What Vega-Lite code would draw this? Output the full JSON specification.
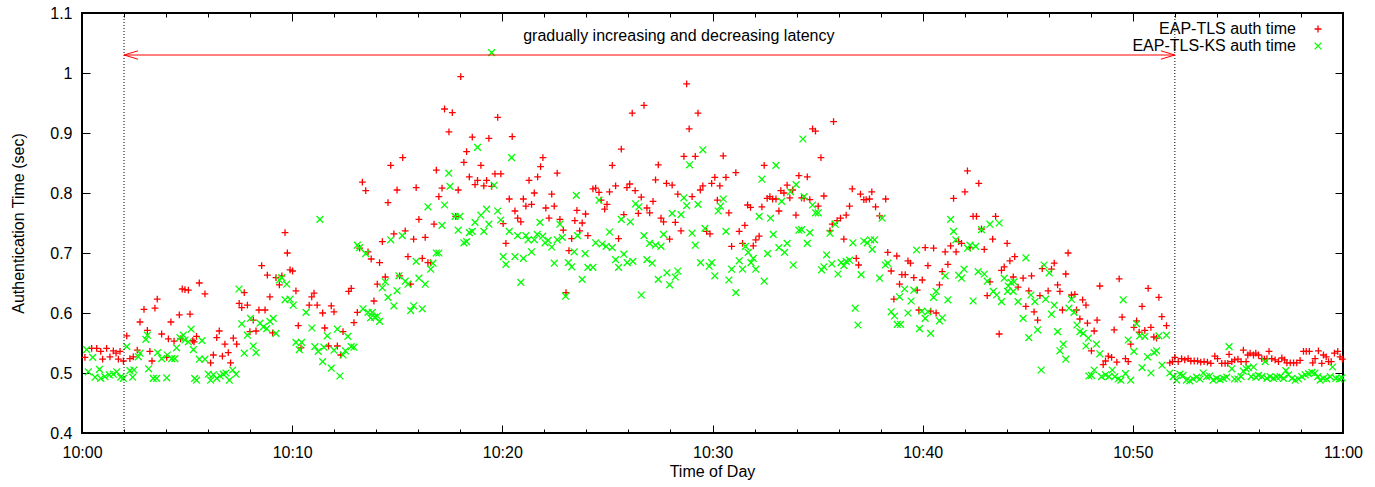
{
"$schema": "https://vega.github.io/schema/vega-lite/v6.json",
"width": 1261, "height": 420,
"autosize": {"type": "none"},
"padding": {"left": 82, "top": 13, "right": 32, "bottom": 54},
"background": "white",
"config": {
  "view": {"stroke": "black", "strokeWidth": 2},
  "font": "Liberation Sans",
  "axis": {"grid": false, "domain": false, "labelFont": "Liberation Sans", "labelFontSize": 16, "labelColor": "black", "titleFont": "Liberation Sans", "titleFontSize": 16, "titleFontWeight": "normal", "titleColor": "black", "tickColor": "black", "tickWidth": 1},
  "legend": {"orient": "none", "legendX": 1228, "legendY": 8, "title": null, "labelAlign": "right", "labelOffset": -30, "labelLimit": 0, "labelFont": "Liberation Sans", "labelFontSize": 16, "labelColor": "black", "symbolSize": 46, "symbolStrokeWidth": 1.3, "rowPadding": 1}
},
"datasets": {
"tls": [
{"t":0.14,"v":0.526},{"t":0.46,"v":0.541},{"t":0.70,"v":0.541},{"t":0.89,"v":0.536},{"t":0.98,"v":0.523},{"t":1.17,"v":0.541},{"t":1.33,"v":0.527},{"t":1.49,"v":0.537},{"t":1.62,"v":0.533},{"t":1.73,"v":0.523},{"t":1.81,"v":0.536},{"t":1.97,"v":0.520},{"t":2.13,"v":0.562},{"t":2.28,"v":0.524},{"t":2.44,"v":0.527},{"t":2.63,"v":0.538},{"t":2.76,"v":0.585},{"t":2.95,"v":0.606},{"t":3.11,"v":0.571},{"t":3.23,"v":0.536},{"t":3.33,"v":0.520},{"t":3.47,"v":0.608},{"t":3.58,"v":0.623},{"t":3.79,"v":0.565},{"t":4.03,"v":0.526},{"t":4.11,"v":0.557},{"t":4.23,"v":0.585},{"t":4.38,"v":0.553},{"t":4.63,"v":0.597},{"t":4.69,"v":0.557},{"t":4.77,"v":0.640},{"t":4.90,"v":0.639},{"t":5.06,"v":0.638},{"t":5.14,"v":0.598},{"t":5.27,"v":0.554},
{"t":5.33,"v":0.552},{"t":5.45,"v":0.561},{"t":5.58,"v":0.650},{"t":5.85,"v":0.632},{"t":6.12,"v":0.517},{"t":6.25,"v":0.530},{"t":6.41,"v":0.559},{"t":6.53,"v":0.570},{"t":6.68,"v":0.528},{"t":6.80,"v":0.548},{"t":6.96,"v":0.534},{"t":7.07,"v":0.517},{"t":7.20,"v":0.558},{"t":7.36,"v":0.548},{"t":7.48,"v":0.616},{"t":7.60,"v":0.609},{"t":7.72,"v":0.634},{"t":7.87,"v":0.613},{"t":7.99,"v":0.569},{"t":8.15,"v":0.588},{"t":8.28,"v":0.570},{"t":8.42,"v":0.605},{"t":8.55,"v":0.679},{"t":8.71,"v":0.605},{"t":8.82,"v":0.663},{"t":8.94,"v":0.627},{"t":9.07,"v":0.567},{"t":9.23,"v":0.659},{"t":9.39,"v":0.647},{"t":9.51,"v":0.662},{"t":9.66,"v":0.734},{"t":9.77,"v":0.700},{"t":9.90,"v":0.672},{"t":10.02,"v":0.670},{"t":10.18,"v":0.637},{"t":10.29,"v":0.579},{"t":10.42,"v":0.542},{"t":10.81,"v":0.613},{"t":10.93,"v":0.627},{"t":11.04,"v":0.633},{"t":11.19,"v":0.613},
{"t":11.45,"v":0.600},{"t":11.55,"v":0.575},{"t":11.73,"v":0.545},{"t":11.86,"v":0.612},{"t":11.99,"v":0.602},{"t":12.15,"v":0.545},{"t":12.31,"v":0.530},{"t":12.42,"v":0.569},{"t":12.69,"v":0.636},{"t":12.81,"v":0.641},{"t":12.94,"v":0.584},{"t":13.10,"v":0.601},{"t":13.21,"v":0.708},{"t":13.34,"v":0.818},{"t":13.50,"v":0.804},{"t":13.61,"v":0.702},{"t":13.76,"v":0.690},{"t":13.89,"v":0.620},{"t":14.05,"v":0.648},{"t":14.16,"v":0.684},{"t":14.29,"v":0.719},{"t":14.43,"v":0.660},{"t":14.56,"v":0.784},{"t":14.69,"v":0.846},{"t":14.84,"v":0.732},{"t":14.99,"v":0.805},{"t":15.11,"v":0.662},{"t":15.26,"v":0.859},{"t":15.38,"v":0.737},{"t":15.51,"v":0.694},{"t":15.64,"v":0.648},{"t":15.78,"v":0.723},{"t":15.90,"v":0.809},{"t":16.03,"v":0.756},{"t":16.19,"v":0.691},{"t":16.33,"v":0.726},{"t":16.46,"v":0.684},{"t":16.59,"v":0.684},{"t":16.75,"v":0.748},{"t":16.86,"v":0.838},{"t":16.98,"v":0.794},{"t":17.13,"v":0.808},{"t":17.25,"v":0.940},{"t":17.46,"v":0.902},
{"t":17.62,"v":0.934},{"t":17.78,"v":0.761},{"t":17.90,"v":0.805},{"t":18.02,"v":0.994},{"t":18.17,"v":0.851},{"t":18.30,"v":0.869},{"t":18.43,"v":0.827},{"t":18.57,"v":0.893},{"t":18.70,"v":0.814},{"t":18.82,"v":0.821},{"t":18.98,"v":0.846},{"t":19.12,"v":0.812},{"t":19.25,"v":0.821},{"t":19.36,"v":0.891},{"t":19.49,"v":0.811},{"t":19.65,"v":0.832},{"t":19.78,"v":0.926},{"t":19.93,"v":0.832},{"t":20.04,"v":0.749},{"t":20.17,"v":0.716},{"t":20.33,"v":0.790},{"t":20.47,"v":0.894},{"t":20.60,"v":0.770},{"t":20.73,"v":0.758},{"t":20.88,"v":0.752},{"t":21.00,"v":0.790},{"t":21.12,"v":0.778},{"t":21.27,"v":0.821},{"t":21.39,"v":0.781},{"t":21.52,"v":0.800},{"t":21.68,"v":0.827},{"t":21.82,"v":0.844},{"t":21.93,"v":0.859},{"t":22.07,"v":0.775},{"t":22.22,"v":0.758},{"t":22.35,"v":0.798},{"t":22.47,"v":0.778},{"t":22.61,"v":0.833},{"t":22.74,"v":0.756},{"t":22.90,"v":0.738},{"t":23.03,"v":0.634},{"t":23.17,"v":0.704},{"t":23.30,"v":0.724},{"t":23.45,"v":0.754},{"t":23.55,"v":0.771},
{"t":23.68,"v":0.737},{"t":23.80,"v":0.750},{"t":23.96,"v":0.765},{"t":24.07,"v":0.729},{"t":24.31,"v":0.807},{"t":24.44,"v":0.808},{"t":24.60,"v":0.801},{"t":24.70,"v":0.788},{"t":24.87,"v":0.773},{"t":24.98,"v":0.781},{"t":25.10,"v":0.802},{"t":25.23,"v":0.846},{"t":25.39,"v":0.812},{"t":25.53,"v":0.724},{"t":25.66,"v":0.873},{"t":25.78,"v":0.764},{"t":25.93,"v":0.809},{"t":26.06,"v":0.815},{"t":26.18,"v":0.933},{"t":26.32,"v":0.804},{"t":26.47,"v":0.766},{"t":26.61,"v":0.793},{"t":26.74,"v":0.946},{"t":26.88,"v":0.775},{"t":27.01,"v":0.767},{"t":27.17,"v":0.786},{"t":27.29,"v":0.822},{"t":27.42,"v":0.847},{"t":27.55,"v":0.758},{"t":27.67,"v":0.752},{"t":27.81,"v":0.816},{"t":27.96,"v":0.723},{"t":28.08,"v":0.813},{"t":28.23,"v":0.751},{"t":28.35,"v":0.798},{"t":28.50,"v":0.737},{"t":28.64,"v":0.861},{"t":28.77,"v":0.982},{"t":28.89,"v":0.907},{"t":29.03,"v":0.794},{"t":29.18,"v":0.861},{"t":29.31,"v":0.933},{"t":29.42,"v":0.805},{"t":29.54,"v":0.812},
{"t":29.72,"v":0.736},{"t":29.88,"v":0.732},{"t":29.96,"v":0.816},{"t":30.11,"v":0.826},{"t":30.23,"v":0.788},{"t":30.35,"v":0.812},{"t":30.51,"v":0.862},{"t":30.64,"v":0.826},{"t":30.78,"v":0.767},{"t":30.91,"v":0.711},{"t":31.11,"v":0.834},{"t":31.27,"v":0.736},{"t":31.43,"v":0.716},{"t":31.54,"v":0.746},{"t":31.67,"v":0.780},{"t":31.81,"v":0.776},{"t":31.94,"v":0.712},{"t":32.06,"v":0.722},{"t":32.22,"v":0.728},{"t":32.35,"v":0.777},{"t":32.46,"v":0.846},{"t":32.60,"v":0.791},{"t":32.73,"v":0.794},{"t":32.86,"v":0.790},{"t":33.02,"v":0.790},{"t":33.16,"v":0.770},{"t":33.25,"v":0.804},{"t":33.40,"v":0.800},{"t":33.55,"v":0.813},{"t":33.68,"v":0.792},{"t":33.81,"v":0.805},{"t":33.97,"v":0.763},{"t":34.11,"v":0.829},{"t":34.24,"v":0.792},{"t":34.36,"v":0.791},{"t":34.51,"v":0.827},{"t":34.63,"v":0.789},{"t":34.76,"v":0.907},{"t":34.90,"v":0.903},{"t":35.03,"v":0.778},{"t":35.16,"v":0.859},{"t":35.30,"v":0.795},{"t":35.59,"v":0.737},{"t":35.70,"v":0.748},{"t":35.76,"v":0.919},
{"t":35.93,"v":0.754},{"t":36.09,"v":0.758},{"t":36.25,"v":0.723},{"t":36.36,"v":0.763},{"t":36.52,"v":0.778},{"t":36.65,"v":0.807},{"t":36.84,"v":0.691},{"t":36.95,"v":0.680},{"t":37.04,"v":0.798},{"t":37.20,"v":0.789},{"t":37.31,"v":0.789},{"t":37.47,"v":0.790},{"t":37.58,"v":0.802},{"t":37.76,"v":0.777},{"t":37.95,"v":0.762},{"t":38.24,"v":0.790},{"t":38.34,"v":0.701},{"t":38.50,"v":0.670},{"t":38.63,"v":0.623},{"t":38.77,"v":0.695},{"t":38.90,"v":0.648},{"t":39.01,"v":0.664},{"t":39.17,"v":0.664},{"t":39.30,"v":0.687},{"t":39.42,"v":0.683},{"t":39.58,"v":0.659},{"t":39.74,"v":0.638},{"t":39.82,"v":0.605},{"t":39.98,"v":0.655},{"t":40.12,"v":0.709},{"t":40.25,"v":0.679},{"t":40.38,"v":0.603},{"t":40.52,"v":0.708},{"t":40.64,"v":0.600},{"t":40.80,"v":0.647},{"t":40.93,"v":0.669},{"t":41.07,"v":0.702},{"t":41.20,"v":0.681},{"t":41.33,"v":0.712},{"t":41.47,"v":0.791},{"t":41.59,"v":0.702},{"t":41.71,"v":0.719},
{"t":41.85,"v":0.716},{"t":42.01,"v":0.802},{"t":42.13,"v":0.837},{"t":42.25,"v":0.709},{"t":42.40,"v":0.761},{"t":42.56,"v":0.761},{"t":42.67,"v":0.816},{"t":42.80,"v":0.740},{"t":42.93,"v":0.706},{"t":43.07,"v":0.629},{"t":43.20,"v":0.652},{"t":43.33,"v":0.723},{"t":43.47,"v":0.761},{"t":43.64,"v":0.565},{"t":43.75,"v":0.671},{"t":43.88,"v":0.677},{"t":44.02,"v":0.716},{"t":44.15,"v":0.687},{"t":44.31,"v":0.660},{"t":44.38,"v":0.694},{"t":44.54,"v":0.643},{"t":44.78,"v":0.658},{"t":44.91,"v":0.611},{"t":45.05,"v":0.637},{"t":45.18,"v":0.662},{"t":45.30,"v":0.602},{"t":45.47,"v":0.588},{"t":45.58,"v":0.629},{"t":45.69,"v":0.674},{"t":45.97,"v":0.637},{"t":46.13,"v":0.673},{"t":46.26,"v":0.683},{"t":46.42,"v":0.647},{"t":46.53,"v":0.636},{"t":46.65,"v":0.605},{"t":46.81,"v":0.665},{"t":46.92,"v":0.700},{"t":47.08,"v":0.630},{"t":47.24,"v":0.631},{"t":47.32,"v":0.605},{"t":47.48,"v":0.590},{"t":47.61,"v":0.622},{"t":47.77,"v":0.613},{"t":47.84,"v":0.583},
{"t":48.03,"v":0.537},{"t":48.16,"v":0.570},{"t":48.30,"v":0.588},{"t":48.43,"v":0.645},{"t":48.59,"v":0.514},{"t":48.70,"v":0.520},{"t":48.83,"v":0.528},{"t":48.99,"v":0.526},{"t":49.11,"v":0.572},{"t":49.24,"v":0.518},{"t":49.35,"v":0.657},{"t":49.49,"v":0.593},{"t":49.65,"v":0.524},{"t":49.78,"v":0.519},{"t":49.90,"v":0.548},{"t":50.05,"v":0.576},{"t":50.18,"v":0.587},{"t":50.30,"v":0.568},{"t":50.44,"v":0.611},{"t":50.57,"v":0.571},{"t":50.73,"v":0.641},{"t":50.86,"v":0.576},{"t":51.00,"v":0.560},{"t":51.13,"v":0.558},{"t":51.24,"v":0.626},{"t":51.38,"v":0.594},{"t":51.60,"v":0.579},{"t":51.76,"v":0.517},{"t":51.89,"v":0.519},{"t":52.00,"v":0.526},{"t":52.16,"v":0.519},{"t":52.32,"v":0.524},{"t":52.47,"v":0.522},{"t":52.63,"v":0.524},{"t":52.76,"v":0.520},{"t":52.92,"v":0.520},{"t":53.08,"v":0.520},{"t":53.23,"v":0.518},{"t":53.39,"v":0.519},{"t":53.55,"v":0.518},{"t":53.71,"v":0.516},{"t":53.90,"v":0.528},{"t":54.03,"v":0.524},
{"t":54.23,"v":0.516},{"t":54.39,"v":0.516},{"t":54.52,"v":0.516},{"t":54.58,"v":0.531},{"t":54.71,"v":0.519},{"t":54.84,"v":0.522},{"t":55.00,"v":0.523},{"t":55.15,"v":0.519},{"t":55.26,"v":0.538},{"t":55.39,"v":0.519},{"t":55.47,"v":0.530},{"t":55.58,"v":0.533},{"t":55.74,"v":0.530},{"t":55.85,"v":0.533},{"t":55.98,"v":0.530},{"t":56.14,"v":0.524},{"t":56.26,"v":0.523},{"t":56.38,"v":0.524},{"t":56.48,"v":0.536},{"t":56.61,"v":0.524},{"t":56.77,"v":0.522},{"t":56.93,"v":0.519},{"t":57.09,"v":0.525},{"t":57.22,"v":0.522},{"t":57.33,"v":0.517},{"t":57.49,"v":0.517},{"t":57.65,"v":0.517},{"t":57.80,"v":0.517},{"t":57.96,"v":0.521},{"t":58.12,"v":0.536},{"t":58.25,"v":0.536},{"t":58.40,"v":0.536},{"t":58.56,"v":0.517},{"t":58.67,"v":0.524},{"t":58.83,"v":0.537},{"t":58.99,"v":0.516},{"t":59.07,"v":0.530},{"t":59.20,"v":0.527},{"t":59.31,"v":0.519},{"t":59.44,"v":0.519},{"t":59.59,"v":0.533},{"t":59.75,"v":0.536},{"t":59.86,"v":0.527},{"t":59.97,"v":0.523}
],
"ks": [
{"t":0.22,"v":0.539},{"t":0.30,"v":0.502},{"t":0.51,"v":0.526},{"t":0.62,"v":0.493},{"t":0.83,"v":0.506},{"t":0.89,"v":0.491},{"t":1.09,"v":0.494},{"t":1.30,"v":0.497},{"t":1.49,"v":0.498},{"t":1.65,"v":0.502},{"t":1.84,"v":0.493},{"t":1.97,"v":0.491},{"t":2.13,"v":0.544},{"t":2.28,"v":0.504},{"t":2.41,"v":0.493},{"t":2.47,"v":0.505},{"t":2.68,"v":0.527},{"t":2.76,"v":0.533},{"t":3.04,"v":0.556},{"t":3.11,"v":0.563},{"t":3.17,"v":0.507},{"t":3.39,"v":0.491},{"t":3.55,"v":0.491},{"t":3.60,"v":0.534},{"t":3.79,"v":0.524},{"t":4.03,"v":0.492},{"t":4.06,"v":0.530},{"t":4.27,"v":0.524},{"t":4.42,"v":0.524},{"t":4.50,"v":0.542},{"t":4.66,"v":0.559},{"t":4.82,"v":0.563},{"t":4.90,"v":0.555},{"t":5.06,"v":0.552},{"t":5.19,"v":0.573},{"t":5.30,"v":0.539},{"t":5.36,"v":0.491},
{"t":5.45,"v":0.488},{"t":5.58,"v":0.523},{"t":5.71,"v":0.554},{"t":5.85,"v":0.523},{"t":6.01,"v":0.498},{"t":6.12,"v":0.488},{"t":6.25,"v":0.497},{"t":6.41,"v":0.491},{"t":6.57,"v":0.495},{"t":6.72,"v":0.498},{"t":6.85,"v":0.500},{"t":7.01,"v":0.488},{"t":7.17,"v":0.505},{"t":7.33,"v":0.498},{"t":7.47,"v":0.640},{"t":7.60,"v":0.582},{"t":7.72,"v":0.533},{"t":7.87,"v":0.563},{"t":8.02,"v":0.591},{"t":8.15,"v":0.545},{"t":8.28,"v":0.534},{"t":8.47,"v":0.583},{"t":8.63,"v":0.577},{"t":8.79,"v":0.574},{"t":8.94,"v":0.586},{"t":9.10,"v":0.591},{"t":9.23,"v":0.566},{"t":9.39,"v":0.655},{"t":9.50,"v":0.659},{"t":9.66,"v":0.622},{"t":9.74,"v":0.648},{"t":9.90,"v":0.623},{"t":10.05,"v":0.613},{"t":10.18,"v":0.551},{"t":10.34,"v":0.539},{"t":10.45,"v":0.551},{"t":10.66,"v":0.601},{"t":10.94,"v":0.575},{"t":11.08,"v":0.544},{"t":11.24,"v":0.536},{"t":11.32,"v":0.756},{"t":11.45,"v":0.519},{"t":11.51,"v":0.543},
{"t":11.67,"v":0.562},{"t":11.86,"v":0.508},{"t":11.99,"v":0.538},{"t":12.15,"v":0.573},{"t":12.27,"v":0.495},{"t":12.42,"v":0.530},{"t":12.53,"v":0.537},{"t":12.65,"v":0.561},{"t":12.81,"v":0.544},{"t":12.94,"v":0.543},{"t":13.10,"v":0.713},{"t":13.21,"v":0.709},{"t":13.37,"v":0.607},{"t":13.50,"v":0.699},{"t":13.61,"v":0.601},{"t":13.73,"v":0.592},{"t":13.81,"v":0.601},{"t":13.92,"v":0.593},{"t":14.05,"v":0.595},{"t":14.16,"v":0.586},{"t":14.29,"v":0.642},{"t":14.43,"v":0.652},{"t":14.56,"v":0.626},{"t":14.69,"v":0.722},{"t":14.84,"v":0.612},{"t":14.99,"v":0.637},{"t":15.08,"v":0.662},{"t":15.24,"v":0.729},{"t":15.38,"v":0.653},{"t":15.51,"v":0.648},{"t":15.64,"v":0.604},{"t":15.78,"v":0.612},{"t":15.90,"v":0.686},{"t":16.03,"v":0.658},{"t":16.19,"v":0.607},{"t":16.33,"v":0.648},{"t":16.46,"v":0.777},{"t":16.59,"v":0.673},{"t":16.70,"v":0.683},{"t":16.86,"v":0.700},{"t":16.98,"v":0.700},{"t":17.13,"v":0.746},{"t":17.25,"v":0.780},{"t":17.45,"v":0.833},{"t":17.51,"v":0.811},
{"t":17.75,"v":0.761},{"t":17.90,"v":0.738},{"t":17.98,"v":0.761},{"t":18.17,"v":0.717},{"t":18.30,"v":0.719},{"t":18.43,"v":0.734},{"t":18.57,"v":0.736},{"t":18.70,"v":0.751},{"t":18.82,"v":0.876},{"t":18.98,"v":0.763},{"t":19.12,"v":0.736},{"t":19.25,"v":0.773},{"t":19.36,"v":0.748},{"t":19.49,"v":1.034},{"t":19.61,"v":0.813},{"t":19.78,"v":0.770},{"t":19.92,"v":0.755},{"t":20.04,"v":0.694},{"t":20.17,"v":0.681},{"t":20.33,"v":0.736},{"t":20.44,"v":0.859},{"t":20.60,"v":0.694},{"t":20.73,"v":0.729},{"t":20.88,"v":0.651},{"t":21.00,"v":0.691},{"t":21.12,"v":0.729},{"t":21.23,"v":0.722},{"t":21.39,"v":0.702},{"t":21.52,"v":0.722},{"t":21.66,"v":0.731},{"t":21.79,"v":0.751},{"t":21.92,"v":0.728},{"t":22.03,"v":0.717},{"t":22.18,"v":0.721},{"t":22.35,"v":0.710},{"t":22.47,"v":0.683},{"t":22.61,"v":0.722},{"t":22.74,"v":0.748},{"t":22.85,"v":0.726},{"t":23.01,"v":0.628},{"t":23.14,"v":0.684},{"t":23.30,"v":0.677},{"t":23.42,"v":0.702},{"t":23.52,"v":0.796},{"t":23.58,"v":0.729},
{"t":23.80,"v":0.656},{"t":23.94,"v":0.699},{"t":24.07,"v":0.676},{"t":24.31,"v":0.676},{"t":24.44,"v":0.717},{"t":24.60,"v":0.788},{"t":24.75,"v":0.715},{"t":24.94,"v":0.711},{"t":25.10,"v":0.735},{"t":25.23,"v":0.709},{"t":25.39,"v":0.689},{"t":25.53,"v":0.676},{"t":25.66,"v":0.756},{"t":25.78,"v":0.698},{"t":25.94,"v":0.684},{"t":26.09,"v":0.752},{"t":26.21,"v":0.686},{"t":26.34,"v":0.782},{"t":26.50,"v":0.777},{"t":26.61,"v":0.630},{"t":26.74,"v":0.729},{"t":26.88,"v":0.689},{"t":27.01,"v":0.716},{"t":27.13,"v":0.683},{"t":27.29,"v":0.713},{"t":27.42,"v":0.656},{"t":27.55,"v":0.711},{"t":27.67,"v":0.731},{"t":27.83,"v":0.667},{"t":27.96,"v":0.647},{"t":28.08,"v":0.766},{"t":28.23,"v":0.660},{"t":28.35,"v":0.670},{"t":28.50,"v":0.764},{"t":28.64,"v":0.792},{"t":28.77,"v":0.779},{"t":28.91,"v":0.847},{"t":29.03,"v":0.733},{"t":29.18,"v":0.713},{"t":29.31,"v":0.781},{"t":29.43,"v":0.684},{"t":29.54,"v":0.872},{"t":29.64,"v":0.741},
{"t":29.84,"v":0.678},{"t":29.96,"v":0.684},{"t":30.11,"v":0.662},{"t":30.27,"v":0.770},{"t":30.38,"v":0.778},{"t":30.51,"v":0.790},{"t":30.64,"v":0.736},{"t":30.78,"v":0.655},{"t":30.91,"v":0.673},{"t":31.11,"v":0.634},{"t":31.27,"v":0.687},{"t":31.43,"v":0.673},{"t":31.57,"v":0.711},{"t":31.70,"v":0.701},{"t":31.83,"v":0.684},{"t":31.94,"v":0.691},{"t":32.06,"v":0.673},{"t":32.22,"v":0.761},{"t":32.35,"v":0.823},{"t":32.46,"v":0.653},{"t":32.62,"v":0.699},{"t":32.76,"v":0.758},{"t":32.89,"v":0.731},{"t":33.02,"v":0.846},{"t":33.16,"v":0.709},{"t":33.29,"v":0.786},{"t":33.43,"v":0.701},{"t":33.55,"v":0.716},{"t":33.71,"v":0.802},{"t":33.84,"v":0.680},{"t":33.98,"v":0.814},{"t":34.11,"v":0.738},{"t":34.24,"v":0.739},{"t":34.30,"v":0.890},{"t":34.36,"v":0.794},{"t":34.51,"v":0.716},{"t":34.63,"v":0.734},{"t":34.76,"v":0.780},{"t":34.90,"v":0.767},{"t":35.03,"v":0.767},{"t":35.19,"v":0.672},{"t":35.30,"v":0.677},{"t":35.43,"v":0.697},{"t":35.59,"v":0.733},{"t":35.68,"v":0.682},
{"t":35.84,"v":0.748},{"t":35.97,"v":0.665},{"t":36.12,"v":0.684},{"t":36.25,"v":0.679},{"t":36.36,"v":0.686},{"t":36.52,"v":0.688},{"t":36.68,"v":0.717},{"t":36.79,"v":0.608},{"t":36.92,"v":0.580},{"t":37.07,"v":0.664},{"t":37.20,"v":0.720},{"t":37.36,"v":0.717},{"t":37.52,"v":0.722},{"t":37.60,"v":0.706},{"t":37.71,"v":0.722},{"t":37.95,"v":0.658},{"t":38.07,"v":0.758},{"t":38.22,"v":0.680},{"t":38.34,"v":0.683},{"t":38.50,"v":0.602},{"t":38.66,"v":0.595},{"t":38.79,"v":0.581},{"t":38.90,"v":0.627},{"t":38.95,"v":0.581},{"t":39.14,"v":0.640},{"t":39.30,"v":0.600},{"t":39.45,"v":0.620},{"t":39.58,"v":0.638},{"t":39.71,"v":0.705},{"t":39.85,"v":0.574},{"t":39.96,"v":0.603},{"t":40.12,"v":0.591},{"t":40.25,"v":0.602},{"t":40.38,"v":0.566},{"t":40.52,"v":0.626},{"t":40.64,"v":0.636},{"t":40.80,"v":0.587},{"t":40.93,"v":0.592},{"t":41.07,"v":0.662},{"t":41.20,"v":0.622},{"t":41.33,"v":0.756},{"t":41.47,"v":0.736},{"t":41.58,"v":0.722},{"t":41.71,"v":0.663},
{"t":41.85,"v":0.658},{"t":41.97,"v":0.673},{"t":42.13,"v":0.708},{"t":42.25,"v":0.713},{"t":42.40,"v":0.620},{"t":42.52,"v":0.711},{"t":42.64,"v":0.669},{"t":42.80,"v":0.739},{"t":42.93,"v":0.665},{"t":43.07,"v":0.653},{"t":43.20,"v":0.748},{"t":43.36,"v":0.636},{"t":43.52,"v":0.630},{"t":43.64,"v":0.750},{"t":43.75,"v":0.619},{"t":43.88,"v":0.658},{"t":44.04,"v":0.636},{"t":44.07,"v":0.645},{"t":44.20,"v":0.651},{"t":44.31,"v":0.636},{"t":44.35,"v":0.652},{"t":44.54,"v":0.619},{"t":44.78,"v":0.591},{"t":44.91,"v":0.692},{"t":45.05,"v":0.559},{"t":45.15,"v":0.630},{"t":45.34,"v":0.619},{"t":45.47,"v":0.572},{"t":45.64,"v":0.505},{"t":45.78,"v":0.680},{"t":45.85,"v":0.623},{"t":46.02,"v":0.667},{"t":46.13,"v":0.598},{"t":46.26,"v":0.613},{"t":46.42,"v":0.569},{"t":46.53,"v":0.537},{"t":46.69,"v":0.548},{"t":46.81,"v":0.523},{"t":46.96,"v":0.608},{"t":47.08,"v":0.623},{"t":47.20,"v":0.601},{"t":47.34,"v":0.580},{"t":47.48,"v":0.569},{"t":47.64,"v":0.566},{"t":47.77,"v":0.545},{"t":47.88,"v":0.558},{"t":47.91,"v":0.495},
{"t":48.03,"v":0.496},{"t":48.16,"v":0.505},{"t":48.27,"v":0.548},{"t":48.43,"v":0.532},{"t":48.51,"v":0.494},{"t":48.70,"v":0.497},{"t":48.86,"v":0.494},{"t":49.02,"v":0.505},{"t":49.14,"v":0.494},{"t":49.30,"v":0.490},{"t":49.43,"v":0.488},{"t":49.54,"v":0.622},{"t":49.65,"v":0.499},{"t":49.78,"v":0.555},{"t":49.90,"v":0.488},{"t":50.05,"v":0.536},{"t":50.18,"v":0.582},{"t":50.33,"v":0.562},{"t":50.44,"v":0.509},{"t":50.57,"v":0.561},{"t":50.70,"v":0.527},{"t":50.86,"v":0.500},{"t":51.01,"v":0.534},{"t":51.13,"v":0.537},{"t":51.24,"v":0.562},{"t":51.39,"v":0.513},{"t":51.60,"v":0.563},{"t":51.76,"v":0.500},{"t":51.92,"v":0.494},{"t":52.08,"v":0.488},{"t":52.24,"v":0.498},{"t":52.39,"v":0.496},{"t":52.55,"v":0.488},{"t":52.71,"v":0.487},{"t":52.87,"v":0.490},{"t":53.03,"v":0.493},{"t":53.19,"v":0.490},{"t":53.35,"v":0.500},{"t":53.51,"v":0.494},{"t":53.66,"v":0.495},{"t":53.82,"v":0.488},{"t":53.98,"v":0.491},
{"t":54.15,"v":0.489},{"t":54.31,"v":0.491},{"t":54.47,"v":0.493},{"t":54.58,"v":0.544},{"t":54.71,"v":0.507},{"t":54.84,"v":0.490},{"t":55.00,"v":0.490},{"t":55.15,"v":0.494},{"t":55.26,"v":0.503},{"t":55.39,"v":0.507},{"t":55.50,"v":0.509},{"t":55.63,"v":0.494},{"t":55.74,"v":0.510},{"t":55.85,"v":0.493},{"t":55.98,"v":0.496},{"t":56.14,"v":0.494},{"t":56.30,"v":0.519},{"t":56.38,"v":0.491},{"t":56.53,"v":0.494},{"t":56.69,"v":0.491},{"t":56.85,"v":0.493},{"t":57.01,"v":0.494},{"t":57.17,"v":0.491},{"t":57.28,"v":0.504},{"t":57.41,"v":0.497},{"t":57.57,"v":0.491},{"t":57.72,"v":0.488},{"t":57.88,"v":0.490},{"t":58.04,"v":0.494},{"t":58.20,"v":0.497},{"t":58.36,"v":0.499},{"t":58.52,"v":0.501},{"t":58.67,"v":0.500},{"t":58.80,"v":0.494},{"t":58.91,"v":0.488},{"t":59.07,"v":0.491},{"t":59.23,"v":0.490},{"t":59.39,"v":0.494},{"t":59.50,"v":0.510},{"t":59.66,"v":0.491},{"t":59.82,"v":0.490},{"t":59.95,"v":0.492}
]
},
"layer": [
 {"data": {"name": "tls"},
  "mark": {"type": "point", "filled": false, "strokeWidth": 1.3, "size": 46, "opacity": 1},
  "encoding": {
   "x": {"field": "t", "type": "quantitative", "scale": {"domain": [0, 60], "nice": false, "zero": false},
     "axis": {"orient": "bottom", "values": [0,2,4,6,8,10,12,14,16,18,20,22,24,26,28,30,32,34,36,38,40,42,44,46,48,50,52,54,56,58,60],
       "title": "Time of Day", "titleX": 630, "titleY": 38, "titleBaseline": "middle", "titleAlign": "center",
       "labelExpr": "datum.value % 10 === 0 ? (datum.value === 60 ? '11:00' : (datum.value === 0 ? '10:00' : '10:' + datum.value)) : ''",
       "tickSize": {"condition": {"test": "datum.value % 10 === 0", "value": -8}, "value": -4},
       "labelPadding": 19, "labelFlush": false, "labelOverlap": false}},
   "y": {"field": "v", "type": "quantitative", "scale": {"domain": [0.4, 1.1], "nice": false, "zero": false},
     "axis": {"orient": "left", "values": [0.4,0.5,0.6,0.7,0.8,0.9,1,1.1], "title": "Authentication Time (sec)",
       "titleX": -64, "titleY": 210, "titleAlign": "center", "titleBaseline": "middle", "titleAngle": -90,
       "labelExpr": "datum.value === 1 ? '1' : format(datum.value, '.1f')",
       "tickSize": -8, "labelPadding": 18, "labelFlush": false, "labelOverlap": false}},
   "color": {"datum": "EAP-TLS auth time", "type": "nominal", "scale": {"domain": ["EAP-TLS auth time", "EAP-TLS-KS auth time"], "range": ["#ff0000", "#00ff00"]}},
   "shape": {"datum": "EAP-TLS auth time", "type": "nominal", "scale": {"domain": ["EAP-TLS auth time", "EAP-TLS-KS auth time"], "range": ["M-1,0H1M0,-1V1", "M-1,-1L1,1M-1,1L1,-1"]}}
  }},
 {"data": {"name": "ks"},
  "mark": {"type": "point", "filled": false, "strokeWidth": 1.3, "size": 46, "opacity": 1},
  "encoding": {
   "x": {"field": "t", "type": "quantitative", "scale": {"domain": [0, 60], "nice": false, "zero": false}, "axis": null},
   "y": {"field": "v", "type": "quantitative", "scale": {"domain": [0.4, 1.1], "nice": false, "zero": false}, "axis": null},
   "color": {"datum": "EAP-TLS-KS auth time", "type": "nominal"},
   "shape": {"datum": "EAP-TLS-KS auth time", "type": "nominal"}
  }},
 {"data": {"values": [{"t": 2}, {"t": 52}]},
  "mark": {"type": "rule", "color": "black", "strokeWidth": 1, "strokeDash": [1, 2]},
  "encoding": {
   "x": {"field": "t", "type": "quantitative", "scale": {"domain": [0, 60], "nice": false, "zero": false},
     "axis": {"orient": "top", "values": [0,2,4,6,8,10,12,14,16,18,20,22,24,26,28,30,32,34,36,38,40,42,44,46,48,50,52,54,56,58,60],
       "labels": false, "title": null,
       "tickSize": {"condition": {"test": "datum.value % 10 === 0", "value": -8}, "value": -4}}}
  }},
 {"data": {"values": [{"t": 2, "t2": 52, "v": 1.03}]},
  "mark": {"type": "rule", "color": "#ff0000", "strokeWidth": 1},
  "encoding": {
   "x": {"field": "t", "type": "quantitative", "scale": {"domain": [0, 60], "nice": false, "zero": false}, "axis": null},
   "x2": {"field": "t2"},
   "y": {"field": "v", "type": "quantitative", "scale": {"domain": [0.4, 1.1], "nice": false, "zero": false},
     "axis": {"orient": "right", "values": [0.4,0.5,0.6,0.7,0.8,0.9,1,1.1], "labels": false, "title": null, "tickSize": -8}}
  }},
 {"data": {"values": [{"t": 2, "v": 1.03}]},
  "mark": {"type": "point", "shape": "M0,0L2,-0.6M0,0L2,0.6", "size": 196, "filled": false, "stroke": "#ff0000", "strokeWidth": 1, "opacity": 1},
  "encoding": {
   "x": {"field": "t", "type": "quantitative", "scale": {"domain": [0, 60], "nice": false, "zero": false}, "axis": null},
   "y": {"field": "v", "type": "quantitative", "scale": {"domain": [0.4, 1.1], "nice": false, "zero": false}, "axis": null}
  }},
 {"data": {"values": [{"t": 52, "v": 1.03}]},
  "mark": {"type": "point", "shape": "M0,0L-2,-0.6M0,0L-2,0.6", "size": 196, "filled": false, "stroke": "#ff0000", "strokeWidth": 1, "opacity": 1},
  "encoding": {
   "x": {"field": "t", "type": "quantitative", "scale": {"domain": [0, 60], "nice": false, "zero": false}, "axis": null},
   "y": {"field": "v", "type": "quantitative", "scale": {"domain": [0.4, 1.1], "nice": false, "zero": false}, "axis": null}
  }},
 {"data": {"values": [{"t": 28.4, "v": 1.062, "label": "gradually increasing and decreasing latency"}]},
  "mark": {"type": "text", "font": "Liberation Sans", "fontSize": 16, "color": "black", "align": "center", "baseline": "middle"},
  "encoding": {
   "x": {"field": "t", "type": "quantitative", "scale": {"domain": [0, 60], "nice": false, "zero": false}, "axis": null},
   "y": {"field": "v", "type": "quantitative", "scale": {"domain": [0.4, 1.1], "nice": false, "zero": false}, "axis": null},
   "text": {"field": "label"}
  }}
],
"resolve": {"axis": {"x": "independent", "y": "independent"}}
}
